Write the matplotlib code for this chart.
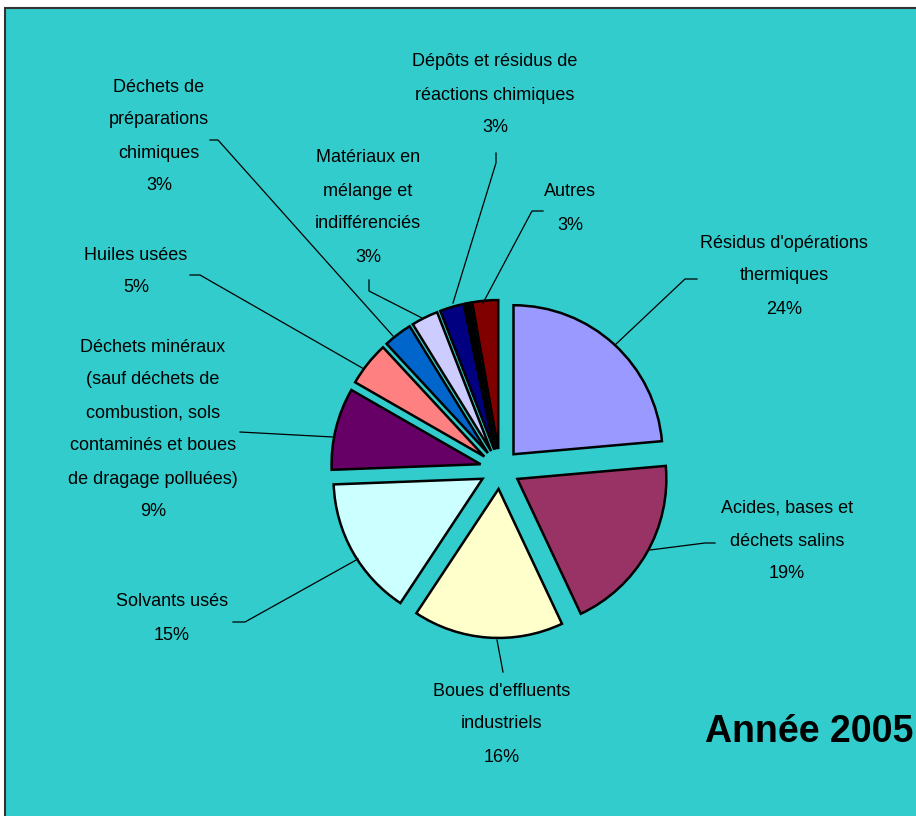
import matplotlib
matplotlib.use("Agg")
from matplotlib import pyplot as plt
from matplotlib import font_manager
from matplotlib.patches import Rectangle

# categories (clockwise from 12 o'clock), shares in %
labels = ["Résidus d'opérations\nthermiques",
          "Acides, bases et\ndéchets salins",
          "Boues d'effluents\nindustriels",
          "Solvants usés",
          "Déchets minéraux\n(sauf déchets de\ncombustion, sols\ncontaminés et boues\nde dragage polluées)",
          "Huiles usées",
          "Déchets de\npréparations\nchimiques",
          "Matériaux en\nmélange et\nindifférenciés",
          "Dépôts et résidus de\nréactions chimiques",
          "",
          "Autres"]
values = [23.6, 19.4, 16.3, 15.1, 8.9, 4.8, 3.1, 2.9, 2.6, 0.5, 2.8]
colors = ["#9999FF", "#993366", "#FFFFCC", "#CCFFFF", "#660066", "#FF8080",
          "#0066CC", "#CCCCFF", "#000080", "#000000", "#800000"]

# label placement in pixels (x centre, y of first line) and leader polylines
label_pos = [(784, 243), (787, 508), (502, 691), (172, 602), (153, 347), (136, 255),
             (159, 87), (368, 158), (495, 62), None, (570, 192)]
leaders = [[(697, 279), (685, 279), (615, 345)],
           [(715, 543), (705, 543), (650, 550)],
           [(503, 672), (497, 640)],
           [(233, 622), (245, 622), (358, 559)],
           [(240, 432), (333, 437)],
           [(190, 275), (200, 275), (364, 369)],
           [(210, 140), (218, 140), (393, 336)],
           [(369, 280), (369, 291), (422, 318)],
           [(496, 153), (496, 163), (453, 303)],
           None,
           [(543, 211), (532, 211), (483, 303)]]

W, H = 916, 816
bg = "#33CCCC"

names = {f.name for f in font_manager.fontManager.ttflist}
if "Liberation Sans Narrow" in names:
    lab_font, lab_size = "Liberation Sans Narrow", 15.5
else:
    lab_font, lab_size = "Liberation Sans", 13


def py(y):
    return H - y


fig = plt.figure(figsize=(W / 100, H / 100), dpi=100)
fig.patch.set_facecolor("white")
ax = fig.add_axes([0, 0, 1, 1])

ax.add_patch(Rectangle((5, -5), W + 10, H - 8 + 5, facecolor=bg,
                       edgecolor="#333333", linewidth=1.5, zorder=0))

# explode is in data units here (pixels), not a fraction of the radius
ax.pie(values, colors=colors, startangle=90, counterclock=False,
       explode=[20] * len(values), radius=149, center=(500, py(469)),
       wedgeprops=dict(edgecolor="black", linewidth=1.8))

for lab, v, pos, lead in zip(labels, values, label_pos, leaders):
    if pos is None:
        continue
    lines = lab.split("\n") + ["%d%%" % round(v)]
    for i, line in enumerate(lines):
        ax.text(pos[0], py(pos[1] + i * 33), line, ha="center", va="center",
                fontsize=lab_size, family=lab_font, color="black")
    xs = [p[0] for p in lead]
    ys = [py(p[1]) for p in lead]
    ax.plot(xs, ys, color="black", linewidth=0.9, zorder=1)

ax.text(913, py(732), "Année 2005", ha="right", va="center",
        fontsize=27, fontweight="bold", family="Liberation Sans")

ax.set_xlim(0, W)
ax.set_ylim(0, H)
ax.set_aspect("equal")
ax.axis("off")

fig.savefig("out.png", dpi=100)
